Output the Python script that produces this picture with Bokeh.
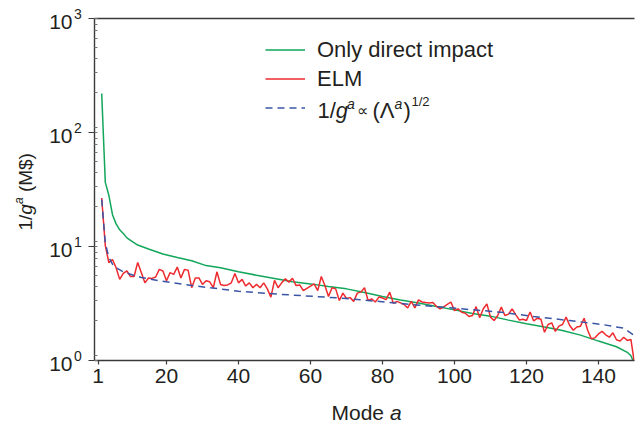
import math
from bokeh.plotting import figure
from bokeh.layouts import column, row
from bokeh.models import (Label, LinearAxis, FixedTicker, Legend, LegendItem,
                          Range1d, LogTicker)
from bokeh.core.properties import value
from bokeh.embed import file_html
from bokeh.resources import INLINE

# ---------------- data ----------------
x_ticks = [1, 20, 40, 60, 80, 100, 120, 140]
y_ticks = [1, 10, 100, 1000]
y_exponents = ["0", "1", "2", "3"]

modes_elm = list(range(2, 151))
elm = [26.6, 10.2, 7.2, 7.7, 6.5, 5.15, 5.8, 6.1, 5.45, 5.45,
       7.25, 5.9, 4.8, 5.3, 5.25, 5.4, 6.3, 6.1, 5.0, 5.9,
       5.7, 6.6, 5.3, 6.3, 6.2, 4.35, 5.3, 5.3, 4.65, 5.0,
       4.9, 4.35, 6.0, 4.65, 4.55, 4.6, 4.8, 5.8, 4.8, 5.15,
       4.5, 4.8, 4.35, 4.65, 4.35, 4.8, 4.25, 3.6, 5.05, 4.35,
       4.8, 5.2, 4.87, 5.27, 4.54, 4.6, 4.1, 4.3, 4.5, 4.7,
       4.1, 5.45, 4.54, 3.65, 4.34, 4.25, 3.36, 3.9, 3.5, 3.56,
       3.3, 3.9, 3.98, 4.34, 3.36, 3.47, 3.26, 3.6, 3.53, 3.42,
       3.98, 3.18, 3.3, 3.2, 3.1, 2.89, 3.3, 2.89, 3.4, 3.26,
       3.22, 3.2, 3.22, 2.98, 2.84, 2.95, 3.1, 3.26, 2.74, 2.84,
       2.65, 2.6, 2.43, 2.48, 2.97, 2.37, 2.84, 3.13, 2.4, 2.24,
       2.48, 2.94, 2.48, 2.55, 2.84, 2.53, 2.27, 2.3, 2.24, 2.66,
       2.22, 2.35, 2.3, 1.77, 2.07, 2.14, 1.8, 2.0, 2.07, 2.4,
       2.03, 1.84, 1.97, 2.0, 2.35, 1.84, 1.55, 1.58, 1.71, 1.8,
       1.68, 1.6, 1.75, 1.52, 1.48, 1.6, 1.5, 1.53, 0.94]

modes_direct = [2, 3, 4, 5, 6, 7, 8, 9, 10, 12, 15, 19, 23, 27, 31, 35, 40,
                45, 50, 55, 60, 65, 70, 75, 80, 85, 90, 95, 100, 105, 110,
                115, 120, 125, 130, 135, 140, 145, 148, 149, 150]
direct = [220, 36.5, 28, 19, 15.8, 14, 13, 11.9, 11.3, 10.3, 9.5, 8.6, 8.0,
          7.5, 6.8, 6.5, 6.0, 5.6, 5.25, 4.9, 4.7, 4.45, 4.25, 3.95, 3.65,
          3.4, 3.2, 2.97, 2.78, 2.58, 2.45, 2.26, 2.1, 1.97, 1.83, 1.67,
          1.48, 1.32, 1.18, 1.1, 0.93]

modes_fit = [2, 3, 4, 5, 6, 8, 10, 13, 18, 27, 40, 52, 70, 88, 102, 113,
             122, 132, 141, 147, 150]
fit = [25.8, 10.7, 8.0, 7.0, 6.5, 6.0, 5.7, 5.35, 5.0, 4.55, 4.05, 3.8,
       3.5, 3.1, 2.84, 2.65, 2.43, 2.24, 2.07, 1.92, 1.65]

GREEN = "#12a65a"
RED = "#ee2a2e"
BLUE = "#3a55a6"
TXT = "#231f20"
AX = "#3a3a3a"
FONT = "Liberation Sans"

# ---------------- layout (page pixels) ----------------
LW = 82                      # left strip (y tick labels + title)
MB = 12                      # main figure left border (ticks)
MW, MH = 554, 392            # main figure
BH = 32                      # bottom strip ("Mode a")
F_LEFT = LW + MB             # frame left on the page = 94
F_TOP, F_BOT = 18, 360       # frame top / bottom on the page
DEC = (F_BOT - F_TOP) / 3.0  # pixels per decade


def yv(py):
    """page y pixel -> value on the log axis (text placement only)."""
    return 10 ** ((F_BOT - py) / DEC)


def no_align(f):
    try:
        f.frame_align = False
    except Exception:
        pass


def strip(width, height, x_range, y_range, **kw):
    f = figure(width=width, height=height, x_range=x_range, y_range=y_range,
               output_backend="svg", toolbar_location=None, title=None,
               min_border=0, min_border_left=0, min_border_right=0,
               min_border_top=0, min_border_bottom=0,
               x_axis_location=None, y_axis_location=None, **kw)
    f.outline_line_color = None
    f.xgrid.visible = False
    f.ygrid.visible = False
    no_align(f)
    return f


# ---------------- main figure ----------------
p = figure(width=MW, height=MH, x_range=Range1d(0, 150),
           y_range=Range1d(1, 1000), y_axis_type="log", title=None,
           output_backend="svg", toolbar_location=None,
           min_border_left=MB, min_border_right=2, min_border_top=F_TOP,
           min_border_bottom=MH - F_BOT)
p.outline_line_color = None
p.xgrid.visible = False
p.ygrid.visible = False
no_align(p)

r_direct = p.line(modes_direct, direct, line_color=GREEN, line_width=1.5)
r_elm = p.line(modes_elm, elm, line_color=RED, line_width=1.5)
r_fit = p.line(modes_fit, fit, line_color=BLUE, line_width=1.5,
               line_dash="7 5")

xa = p.xaxis[0]
xa.ticker = FixedTicker(ticks=x_ticks)
xa.minor_tick_line_color = None
xa.major_tick_in = 0
xa.major_tick_out = 4
xa.axis_line_color = AX
xa.axis_line_width = 1.4
xa.major_tick_line_color = AX
xa.major_tick_line_width = 1.2
xa.major_label_text_font = FONT
xa.major_label_text_font_size = "21px"
xa.major_label_text_color = TXT
xa.major_label_standoff = 4

ya = p.yaxis[0]
ya.ticker = LogTicker(num_minor_ticks=9)
ya.major_tick_in = 0
ya.major_tick_out = 6
ya.minor_tick_in = 3
ya.minor_tick_out = 0
ya.axis_line_color = AX
ya.axis_line_width = 1.4
ya.major_tick_line_color = AX
ya.major_tick_line_width = 1.2
ya.minor_tick_line_color = "#777777"
ya.major_label_overrides = {1: " ", 10: " ", 100: " ", 1000: " "}
ya.major_label_text_font_size = "2px"
ya.major_label_standoff = 0

top = LinearAxis(ticker=FixedTicker(ticks=[]), axis_line_color=AX,
                 axis_line_width=1.4, major_tick_line_color=None,
                 minor_tick_line_color=None)
p.add_layout(top, "above")

legend = Legend(items=[LegendItem(label="Only direct impact", renderers=[r_direct]),
                       LegendItem(label="ELM", renderers=[r_elm]),
                       LegendItem(label=" ", renderers=[r_fit])],
                location=(171, 238), orientation="vertical",
                border_line_color=None, background_fill_alpha=0,
                padding=0, margin=0, spacing=0,
                glyph_width=40, glyph_height=29, label_height=29,
                label_standoff=12, label_text_font=FONT,
                label_text_font_size="22px", label_text_color=TXT,
                label_text_baseline="middle")
p.add_layout(legend)


def flab(px, py, text, size, italic=False):
    p.add_layout(Label(x=0, y=yv(py), x_units="data", y_units="data",
                       x_offset=px - F_LEFT, text=text, text_font=FONT,
                       text_font_size=f"{size}px", text_color=TXT,
                       text_font_style="italic" if italic else "normal",
                       text_align="left", text_baseline="alphabetic"))


# legend formula: 1/g^a ∝ (Λ^a)^{1/2}
base = 110
flab(317, base, "1/", 22)
flab(335.3, base, "g", 22, italic=True)
flab(346.5, base - 7, "a", 14, italic=True)
flab(356, base, "∝", 16)
flab(372, base, "(", 22)
flab(379.3, base, "Λ", 22)
flab(394, base - 7, "a", 14, italic=True)
flab(403, base, ")", 22)
flab(411, base - 9, "1/2", 13)

# ---------------- left strip: y tick labels and y title ----------------
L = strip(LW, MH, Range1d(0, LW), Range1d(yv(MH), yv(0)), y_axis_type="log")

L.text(x=[72] * 4, y=y_ticks, text=["10"] * 4, y_offset=3.5,
       text_font=value(FONT), text_font_size=value("21px"),
       text_color=TXT, text_align="right", text_baseline="alphabetic")
L.text(x=[73.5] * 4, y=y_ticks, text=y_exponents, y_offset=-4.5,
       text_font=value(FONT), text_font_size=value("14px"),
       text_color=TXT, text_align="left", text_baseline="alphabetic")

A = math.pi / 2
L.text(x=[25], y=[yv(230)], text=["1/"], angle=A,
       text_font=value(FONT), text_font_size=value("19px"), text_color=TXT,
       text_align="left", text_baseline="alphabetic")
L.text(x=[25], y=[yv(214.2)], text=["g"], angle=A,
       text_font=value(FONT), text_font_size=value("19px"), text_color=TXT,
       text_font_style="italic", text_align="left", text_baseline="alphabetic")
L.text(x=[18], y=[yv(203.6)], text=["a"], angle=A,
       text_font=value(FONT), text_font_size=value("12px"), text_color=TXT,
       text_font_style="italic", text_align="left", text_baseline="alphabetic")
L.text(x=[25], y=[yv(191.6)], text=["(M$)"], angle=A,
       text_font=value(FONT), text_font_size=value("19px"), text_color=TXT,
       text_align="left", text_baseline="alphabetic")

# ---------------- bottom strip: x title ----------------
B = strip(LW + MW, BH, Range1d(0, LW + MW), Range1d(0, BH))
B.text(x=[331], y=[12], text=["Mode "], text_font=value(FONT),
       text_font_size=value("21px"), text_color=TXT,
       text_align="left", text_baseline="alphabetic")
B.text(x=[389.4], y=[12], text=["a"], text_font=value(FONT),
       text_font_size=value("21px"), text_color=TXT, text_font_style="italic",
       text_align="left", text_baseline="alphabetic")

layout = column(row(L, p), B)
open("out.html", "w").write(file_html(layout, INLINE))
